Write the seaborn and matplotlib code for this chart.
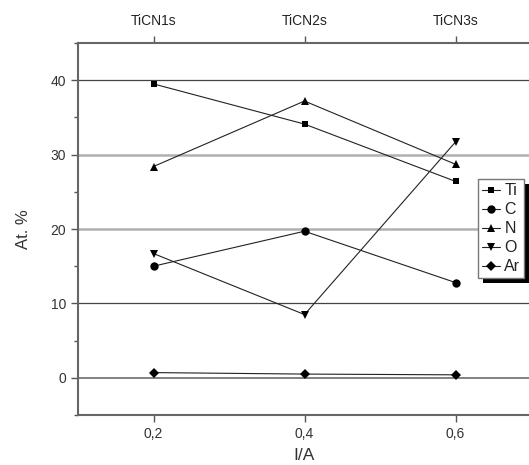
import matplotlib
matplotlib.use("Agg")
import matplotlib.pyplot as plt
import seaborn as sns
import pandas as pd
from matplotlib.ticker import MultipleLocator
from matplotlib.patches import Rectangle

current = [0.2, 0.4, 0.6]
samples = ["TiCN1s", "TiCN2s", "TiCN3s"]
ti = [39.5, 34.1, 26.4]
c = [15.0, 19.7, 12.8]
n = [28.4, 37.2, 28.7]
o = [16.7, 8.5, 31.7]
ar = [0.7, 0.5, 0.4]
series_names = ["Ti", "C", "N", "O", "Ar"]
series_vals = [ti, c, n, o, ar]
markers = ["s", "o", "^", "v", "D"]

sns.set_style("white")
plt.rcParams["font.family"] = ["Liberation Sans", "DejaVu Sans"]

fig = plt.figure(figsize=(5.29, 4.65), dpi=100)
W, H = 529, 465
ax = fig.add_axes([78 / W, (H - 415) / H, (531 - 78) / W, (415 - 43) / H])

# grid lines
for yv, col, lw in [(40, "#444444", 0.9), (30, "#b0b0b0", 1.8), (20, "#b0b0b0", 1.8),
                    (10, "#444444", 0.9), (0, "#777777", 1.3)]:
    ax.axhline(yv, color=col, lw=lw, zorder=0)

for name, vals, m in zip(series_names, series_vals, markers):
    df = pd.DataFrame({"x": current, "y": vals})
    ms = 5 if m in ("s", "D") else 6
    sns.lineplot(data=df, x="x", y="y", ax=ax, color="#222222", lw=0.8,
                 marker=m, markersize=ms, markeredgewidth=0, markerfacecolor="black",
                 label=name, zorder=3)

ax.set_xlim(0.1, 0.7)
ax.set_ylim(-5, 45)
ax.set_xticks(current)
ax.set_xticklabels(["0,2", "0,4", "0,6"])
ax.set_yticks([0, 10, 20, 30, 40])
ax.yaxis.set_minor_locator(MultipleLocator(5))
ax.tick_params(axis="both", which="major", direction="out", length=5, width=1,
               color="#555555", labelsize=10, labelcolor="#333333", left=True, bottom=True)
ax.tick_params(axis="y", which="minor", direction="out", length=3, width=1,
               color="#555555", left=True)
ax.set_xlabel("I/A", fontsize=12.5, color="#333333", labelpad=5)
ax.set_ylabel("At. %", fontsize=12, color="#333333", labelpad=14)

for sp in ["left", "bottom", "top"]:
    ax.spines[sp].set_color("#666666")
    ax.spines[sp].set_linewidth(1.5)
ax.spines["right"].set_visible(False)

sec = ax.secondary_xaxis("top")
sec.set_xticks(current)
sec.set_xticklabels(samples)
sec.tick_params(direction="out", length=5, width=1, color="#555555", labelsize=10,
                labelcolor="#222222", pad=6)
sec.spines["top"].set_visible(False)

leg = ax.legend(loc="upper left", bbox_to_anchor=(0.883, 0.634), borderaxespad=0,
                fontsize=11.5, handlelength=1.1, handletextpad=0.3, labelspacing=0.25,
                borderpad=0.25, frameon=True, fancybox=False, shadow=False,
                framealpha=1, facecolor="white")
leg.get_frame().set_edgecolor("#777777")
leg.get_frame().set_linewidth(1.0)
leg.set_zorder(6)
for t in leg.get_texts():
    t.set_color("#222222")

fig.canvas.draw()
bb = leg.get_window_extent()
inv = ax.transAxes.inverted()
(x0, y0) = inv.transform((bb.x0 + 5, bb.y0 - 5))
(x1, y1) = inv.transform((bb.x1 + 5, bb.y1 - 5))
ax.add_patch(Rectangle((x0, y0), x1 - x0, y1 - y0, transform=ax.transAxes,
                       facecolor="black", edgecolor="none", zorder=5.5, clip_on=False))

fig.savefig("out.png", dpi=100)
